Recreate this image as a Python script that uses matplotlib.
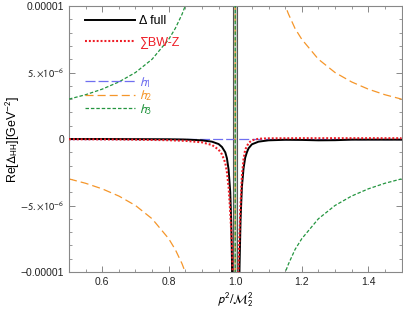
import matplotlib
matplotlib.use('Agg')
from matplotlib import pyplot as plt
from matplotlib.ticker import FixedLocator, MultipleLocator

plt.rcParams['font.family'] = ['Liberation Sans', 'DejaVu Sans']
plt.rcParams['mathtext.fontset'] = 'stixsans'
plt.rcParams['lines.scale_dashes'] = False

# values in units of 1e-6 GeV^-2
x_full = [0.5, 0.6, 0.7, 0.8, 0.85, 0.9, 0.93, 0.95, 0.96, 0.97, 0.975, 0.98, 0.985, 0.988,
          0.990, 0.992, 0.994, 1.0, 1.006, 1.008, 1.010, 1.013, 1.016, 1.02,
          1.025, 1.03, 1.035, 1.04, 1.05, 1.07, 1.1, 1.15, 1.2, 1.25, 1.3, 1.35, 1.4, 1.5]
y_full = [0.0, 0.0, -0.01, -0.02, -0.04, -0.1, -0.2, -0.38, -0.6, -1.0, -1.45, -2.3, -4.0, -6.3,
          -9.0, -14, -40, -80, -40, -18, -14, -9.5, -6.0, -3.6,
          -2.2, -1.4, -1.0, -0.7, -0.4, -0.2, -0.1, -0.06, -0.07, -0.1, -0.09, -0.05, -0.05, -0.05]

x_bw = [0.5, 0.6, 0.7, 0.8, 0.85, 0.9, 0.93, 0.95, 0.96, 0.97, 0.975, 0.98, 0.985, 0.99, 0.993,
        0.996, 1.0, 1.004, 1.007, 1.01, 1.015, 1.02, 1.025, 1.03, 1.04, 1.05, 1.07, 1.1, 1.2,
        1.3, 1.4, 1.5]
y_bw = [-0.02, -0.03, -0.05, -0.09, -0.14, -0.25, -0.45, -0.8, -1.15, -1.8, -2.5, -3.6, -5.5, -8.0, -10.5,
        -20, -60, -20, -11.5, -9.5, -5.5, -2.8, -1.5, -0.8, -0.3, -0.1, 0.02, 0.05, 0.06,
        0.06, 0.06, 0.06]

x_h = [0.5, 0.55, 0.6, 0.65, 0.7, 0.75, 0.8, 0.82, 0.84, 0.86, 0.88, 0.9, 0.95, 0.99, 0.999,
       1.001, 1.01, 1.05, 1.1, 1.12, 1.14, 1.16, 1.18, 1.2, 1.25, 1.3, 1.35, 1.4, 1.45, 1.5]
y_h1 = [0.0] * len(x_h)
y_h2 = [-3.0, -3.33, -3.75, -4.29, -5.0, -6.0, -7.5, -8.33, -9.38, -10.7, -12.5, -15, -30, -150, -1500,
        1500, 150, 30, 15, 12.5, 10.7, 9.4, 8.3, 7.5, 6.0, 5.0, 4.29, 3.75, 3.33, 3.0]
y_h3 = [3.0, 3.33, 3.75, 4.29, 5.0, 6.0, 7.5, 8.33, 9.38, 10.7, 12.5, 15, 30, 150, 1500,
        -1500, -150, -30, -15, -12.5, -10.7, -9.4, -8.3, -7.5, -6.0, -5.0, -4.29, -3.75, -3.33, -3.0]

sc = 1e-6
fig = plt.figure(figsize=(4.03, 3.11), dpi=100)
ax = fig.add_axes([69/403, 1-272/311, 332.5/403, 266/311])

# narrow band around the pole
ax.axvspan(0.9935, 1.0065, facecolor='#c9d3cb', edgecolor='#555555', lw=0.8, zorder=1)

l1, = ax.plot(x_h, [v*sc for v in y_h1], color='#6f6ff0', lw=0.9, dashes=(7.2, 2.2), label=r'$h_{1}$', zorder=2)
l2, = ax.plot(x_h, [v*sc for v in y_h2], color='#f5962a', lw=0.9, dashes=(5.8, 2.9), label=r'$h_{2}$', zorder=2)
l3, = ax.plot(x_h, [v*sc for v in y_h3], color='#23953f', lw=0.9, dashes=(2.5, 1.4), label=r'$h_{3}$', zorder=3)
lf, = ax.plot(x_full, [v*sc for v in y_full], color='black', lw=1.4, label='Δ full', zorder=4)
lb, = ax.plot(x_bw, [v*sc for v in y_bw], color='#ee1c25', lw=1.5, dashes=(1.4, 1.4),
              label='∑BW-Z', zorder=5)

ax.set_xlim(0.5, 1.5)
ax.set_ylim(-1e-5, 1e-5)

ax.xaxis.set_major_locator(FixedLocator([0.6, 0.8, 1.0, 1.2, 1.4]))
ax.set_xticklabels(['0.6', '0.8', '1.0', '1.2', '1.4'])
ax.xaxis.set_minor_locator(MultipleLocator(0.05))
ax.yaxis.set_major_locator(FixedLocator([-1e-5, -5e-6, 0, 5e-6, 1e-5]))
ax.set_yticklabels(['\u22120.00001', r'$-5.{\times}10^{-6}$', '0', r'$5.{\times}10^{-6}$', '0.00001'])
ax.yaxis.set_minor_locator(MultipleLocator(1e-6))

ax.tick_params(which='both', direction='in', top=True, right=True, color='#888888',
               labelsize=7.5, labelcolor='#222222')
ax.tick_params(which='major', length=4, width=0.7)
ax.tick_params(which='minor', length=2.2, width=0.6)
for s in ax.spines.values():
    s.set_color('#888888')
    s.set_linewidth(0.8)

ax.set_xlabel(r'$p^2/\mathcal{M}_2^2$', fontsize=9)
ax.xaxis.set_label_coords(0.5, -0.07)
ax.set_ylabel(r'Re[$\Delta_{\mathrm{HH}}$][GeV$^{-2}$]', fontsize=9)
ax.yaxis.set_label_coords(-0.14, 0.5)

leg1 = ax.legend(handles=[lf, lb], loc='upper left', bbox_to_anchor=(0.048, 0.966), frameon=False,
                 fontsize=9, handlelength=4.0, handletextpad=0.3, labelspacing=0.75,
                 borderpad=0, borderaxespad=0, labelcolor='linecolor')
ax.add_artist(leg1)
leg2 = ax.legend(handles=[l1, l2, l3], loc='upper left', bbox_to_anchor=(0.048, 0.74), frameon=False,
                 fontsize=10, handlelength=3.6, handletextpad=0.3, labelspacing=-0.1,
                 borderpad=0, borderaxespad=0, labelcolor='linecolor')

fig.savefig('out.png', dpi=100)
